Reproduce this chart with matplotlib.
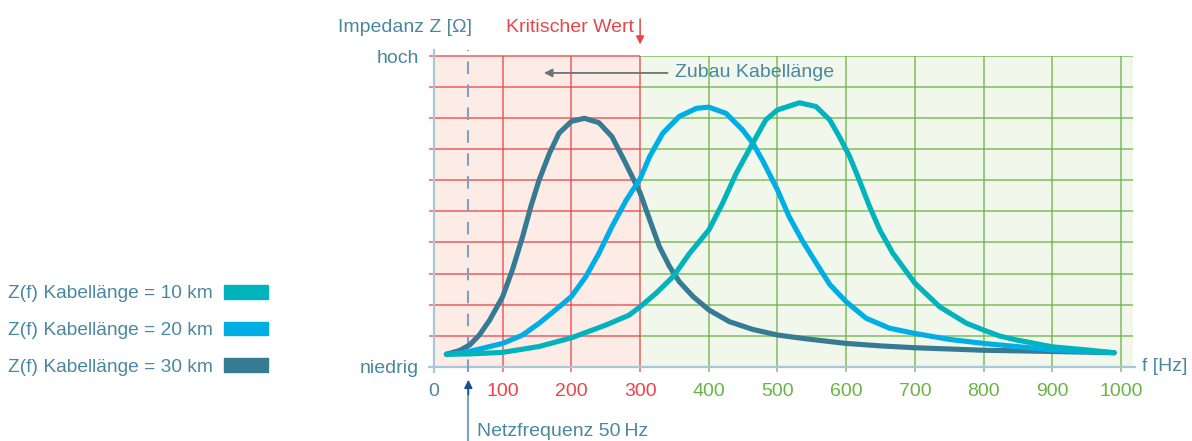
import matplotlib
matplotlib.use("Agg")
import matplotlib.pyplot as plt
from matplotlib.patches import Patch

plt.rcParams['font.family'] = ['Liberation Sans', 'DejaVu Sans']

# values (frequency in Hz, impedance in grid units 0..10)
f_30 = [18, 37, 52, 66, 81, 100, 114, 129, 141, 153, 168, 182, 200, 219, 240, 259, 279,
        300, 314, 328, 343, 357, 377, 400, 430, 464, 500, 537, 576, 600, 650, 700, 800,
        900, 990]
z_30 = [0.40, 0.52, 0.70, 1.02, 1.50, 2.26, 3.11, 4.19, 5.16, 6.01, 6.87, 7.52, 7.90, 8.00,
        7.86, 7.41, 6.55, 5.60, 4.73, 3.87, 3.22, 2.74, 2.26, 1.83, 1.45, 1.20, 1.02, 0.91,
        0.81, 0.75, 0.67, 0.61, 0.53, 0.49, 0.45]

f_20 = [18, 37, 57, 100, 129, 153, 177, 200, 221, 240, 259, 280, 300, 314, 333, 357, 382,
        400, 425, 449, 464, 479, 500, 517, 535, 556, 576, 600, 629, 663, 700, 750, 800,
        900, 990]
z_20 = [0.40, 0.43, 0.52, 0.75, 1.02, 1.40, 1.83, 2.26, 2.90, 3.65, 4.51, 5.37, 6.05, 6.77,
        7.52, 8.06, 8.32, 8.36, 8.16, 7.63, 7.20, 6.61, 5.69, 4.83, 4.10, 3.35, 2.65, 2.09,
        1.56, 1.24, 1.07, 0.88, 0.75, 0.54, 0.45]

f_10 = [18, 50, 100, 153, 200, 250, 284, 300, 323, 348, 372, 400, 420, 440, 464, 483, 500,
        532, 556, 576, 590, 605, 619, 634, 649, 668, 700, 736, 775, 800, 823, 848, 900,
        950, 990]
z_10 = [0.40, 0.41, 0.46, 0.65, 0.93, 1.34, 1.66, 1.93, 2.36, 2.90, 3.65, 4.40, 5.26, 6.23,
        7.20, 7.95, 8.27, 8.50, 8.38, 7.95, 7.41, 6.77, 6.01, 5.16, 4.40, 3.65, 2.69, 1.93,
        1.40, 1.18, 0.99, 0.86, 0.64, 0.54, 0.45]

x_ticks = [0, 100, 200, 300, 400, 500, 600, 700, 800, 900, 1000]
y_grid = [1, 2, 3, 4, 5, 6, 7, 8, 9, 10]
f_crit = 300
f_netz = 50
labels = ['Z(f) Kabellänge = 10 km', 'Z(f) Kabellänge = 20 km', 'Z(f) Kabellänge = 30 km']

c10 = '#00b3bc'
c20 = '#00aee6'
c30 = '#367a93'
txt = '#4a87a0'
red = '#e8454a'
green = '#6ab446'
axis_c = '#a9c7d6'

xmax = 1017.5
fig = plt.figure(figsize=(11.92, 4.41), dpi=100)
ax = fig.add_axes([0.3641, 0.1685, 0.5864, 0.7041])
ax.set_xlim(0, xmax)
ax.set_ylim(0, 10)
ax.set_facecolor('none')
for s in ax.spines.values():
    s.set_visible(False)

# background zones
ax.axvspan(0, f_crit, color='#fdece6', zorder=0, lw=0)
ax.axvspan(f_crit, xmax, color='#f1f7ea', zorder=0, lw=0)

# grid
ax.hlines(y_grid, -7, f_crit, color=red, lw=1.1, alpha=0.85, zorder=1, clip_on=False)
ax.hlines(y_grid, f_crit, xmax, color=green, lw=1.1, alpha=0.85, zorder=1)
for x in x_ticks[1:]:
    ax.vlines(x, -0.17, 10, color=red if x <= f_crit else green, lw=1.1, alpha=0.85,
              zorder=1, clip_on=False)

# axes lines
ax.plot([0, 0], [-0.17, 10.2], color=axis_c, lw=1.6, zorder=2, clip_on=False)
ax.plot([-7, xmax + 3], [0, 0], color=axis_c, lw=1.6, zorder=2, clip_on=False)

# 50 Hz line
ax.plot([f_netz, f_netz], [-0.17, 10.2], color='#7f9fc4', lw=1.5, dashes=[6, 5],
        zorder=2, clip_on=False)

# curves
for f, z, c in [(f_30, z_30, c30), (f_20, z_20, c20), (f_10, z_10, c10)]:
    ax.plot(f, z, color=c, lw=3.7, solid_capstyle='round', solid_joinstyle='round', zorder=3)

# ticks
ax.set_xticks(x_ticks, [str(x) for x in x_ticks])
ax.tick_params(axis='x', length=0, pad=12, labelsize=14)
for lab, x in zip(ax.get_xticklabels(), x_ticks):
    lab.set_color(txt if x == 0 else (red if x <= f_crit else green))
ax.set_yticks([0, 10], ['niedrig', 'hoch'])
ax.tick_params(axis='y', length=0, pad=11, labelsize=14, labelcolor=txt)

# annotations
ax.text(56, 10.91, 'Impedanz Z [Ω]', ha='right', va='center', fontsize=14, color=txt)
ax.text(291, 10.91, 'Kritischer Wert', ha='right', va='center', fontsize=14, color=red)
ax.annotate('', xy=(f_crit, 10.38), xytext=(f_crit, 11.2), annotation_clip=False,
            arrowprops=dict(arrowstyle='-|>', color=red, lw=1.1, mutation_scale=12,
                            shrinkA=0, shrinkB=0))
ax.text(351, 9.46, 'Zubau Kabellänge', ha='left', va='center', fontsize=14, color=txt)
ax.annotate('', xy=(160, 9.46), xytext=(340, 9.46),
            arrowprops=dict(arrowstyle='-|>', color='#6b7378', lw=1.3, mutation_scale=12,
                            shrinkA=0, shrinkB=0))
ax.text(1030, 0, 'f [Hz]', ha='left', va='center', fontsize=14, color=txt, clip_on=False)

ax.plot([f_netz, f_netz], [-2.35, -0.6], color='#7f9fc4', lw=1.5, clip_on=False)
ax.annotate('', xy=(f_netz, -0.42), xytext=(f_netz, -0.9), annotation_clip=False,
            arrowprops=dict(arrowstyle='-|>', color='#1f4f8f', lw=1.2, mutation_scale=12,
                            shrinkA=0, shrinkB=0))
ax.text(63, -2.1, 'Netzfrequenz 50\u2009Hz', ha='left', va='center', fontsize=14, color=txt)

# legend (text left of the swatch)
handles = [Patch(color=c10), Patch(color=c20), Patch(color=c30)]
leg = fig.legend(handles, labels, loc='upper left', bbox_to_anchor=(0.0067, 0.354),
                 markerfirst=False, frameon=False, fontsize=13.8, handlelength=2.3,
                 handleheight=0.72, handletextpad=0.6, labelspacing=1.0, borderpad=0,
                 borderaxespad=0)
for t in leg.get_texts():
    t.set_color(txt)

fig.savefig('out.png', dpi=100)
